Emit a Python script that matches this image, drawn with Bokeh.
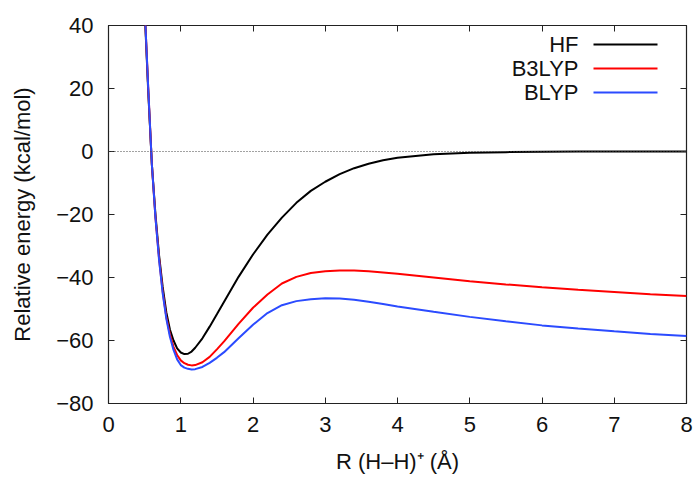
from bokeh.plotting import figure
from bokeh.models import (LinearAxis, FixedTicker, Span, Label, BoxAnnotation,
                          CustomJSTickFormatter, Range1d)
from bokeh.embed import file_html
from bokeh.resources import INLINE

# ---- data ----
R = [0.50, 0.55, 0.60, 0.65, 0.70, 0.75, 0.80, 0.85, 0.90, 0.95, 1.00, 1.05,
     1.10, 1.15, 1.20, 1.30, 1.40, 1.50, 1.60, 1.80, 2.00, 2.20, 2.40, 2.60,
     2.80, 3.00, 3.20, 3.40, 3.60, 3.80, 4.00, 4.50, 5.00, 5.50, 6.00, 6.50,
     7.00, 7.50, 8.00]

HF = [45.0, 19.0, -4.0, -20.0, -33.0, -43.0, -51.0, -56.5, -60.0, -62.5, -63.8,
      -64.3, -64.2, -63.5, -62.3, -59.3, -55.6, -51.7, -47.7, -39.8, -32.7,
      -26.4, -21.0, -16.3, -12.5, -9.6, -7.2, -5.3, -3.9, -2.8, -2.0, -0.9,
      -0.4, -0.2, -0.1, 0.0, 0.0, 0.0, 0.0]

B3LYP = [46.0, 20.0, -4.0, -21.0, -34.0, -44.5, -52.5, -58.0, -62.0, -64.6,
         -66.3, -67.2, -67.7, -67.9, -67.8, -66.9, -65.2, -62.8, -60.3, -54.7,
         -49.6, -45.4, -41.9, -39.8, -38.6, -38.0, -37.8, -37.8, -38.0, -38.4,
         -38.8, -40.0, -41.2, -42.2, -43.1, -43.9, -44.6, -45.3, -45.9]

BLYP = [46.0, 20.0, -4.0, -21.0, -34.5, -45.0, -53.0, -58.8, -63.0, -66.0,
        -67.8, -68.6, -69.0, -69.2, -69.1, -68.4, -67.1, -65.5, -63.7, -59.3,
        -55.0, -51.3, -48.8, -47.5, -46.9, -46.6, -46.7, -47.1, -47.7, -48.4,
        -49.2, -50.9, -52.5, -53.9, -55.2, -56.2, -57.1, -57.9, -58.6]

series_names = ["HF", "B3LYP", "BLYP"]
series_values = [HF, B3LYP, BLYP]
series_colors = ["#000000", "#ff0000", "#2b4bff"]

x_ticks = [0, 1, 2, 3, 4, 5, 6, 7, 8]
y_ticks = [-80, -60, -40, -20, 0, 20, 40]

FONT = "Liberation Sans"
FS = "22px"

p = figure(width=696, height=477, output_backend="svg", toolbar_location=None,
           x_range=Range1d(0, 8), y_range=Range1d(-80, 40),
           min_border_left=108, min_border_right=10, min_border_top=25,
           min_border_bottom=74)
p.grid.visible = False
p.outline_line_color = "#222222"
p.outline_line_width = 1.2
p.background_fill_color = "white"
p.border_fill_color = "white"

minus_fmt = CustomJSTickFormatter(code="return tick < 0 ? '\u2212' + (-tick) : String(tick);")
blank_fmt = CustomJSTickFormatter(code="return '';")

for ax in (p.xaxis[0], p.yaxis[0]):
    ax.major_tick_in = 6
    ax.major_tick_out = 0
    ax.minor_tick_line_color = None
    ax.axis_line_color = "#222222"
    ax.major_tick_line_color = "#222222"
    ax.major_label_text_font = FONT
    ax.major_label_text_font_size = FS
    ax.major_label_text_color = "#111111"
    ax.axis_label_text_font = FONT
    ax.axis_label_text_font_size = FS
    ax.axis_label_text_font_style = "normal"
    ax.axis_label_text_color = "#111111"
    ax.formatter = minus_fmt

p.xaxis[0].ticker = FixedTicker(ticks=x_ticks)
p.yaxis[0].ticker = FixedTicker(ticks=y_ticks)
p.xaxis[0].axis_label = "R (H\u2013H)\u207a (\u00c5)"
p.yaxis[0].axis_label = "Relative energy (kcal/mol)"
p.xaxis[0].major_label_standoff = 13
p.yaxis[0].major_label_standoff = 15
p.xaxis[0].axis_label_standoff = 14
p.yaxis[0].axis_label_standoff = 18

# mirrored tick marks on top and right (no labels)
top_ax = LinearAxis(ticker=FixedTicker(ticks=x_ticks), major_tick_in=6,
                    major_tick_out=0, minor_tick_line_color=None,
                    formatter=blank_fmt, axis_line_color=None,
                    major_tick_line_color="#222222", major_label_standoff=0)
right_ax = LinearAxis(ticker=FixedTicker(ticks=y_ticks), major_tick_in=6,
                      major_tick_out=0, minor_tick_line_color=None,
                      formatter=blank_fmt, axis_line_color=None,
                      major_tick_line_color="#222222", major_label_standoff=0)
p.add_layout(top_ax, "above")
p.add_layout(right_ax, "right")

# dotted zero line
p.add_layout(Span(location=0, dimension="width", line_color="#444444",
                  line_dash="1 2", line_width=1))

for name, vals, col in zip(series_names, series_values, series_colors):
    p.line(R, vals, line_color=col, line_width=2)

# legend (label text to the left of the sample line)
leg_y = [359, 335, 311]
for name, col, yy in zip(series_names, series_colors, leg_y):
    p.add_layout(Label(x=470, y=yy, x_units="screen", y_units="screen",
                       text=name, text_align="right", text_baseline="middle",
                       text_font=FONT, text_font_size=FS, text_color="#111111"))
    p.add_layout(BoxAnnotation(left=485, right=549, bottom=yy - 1, top=yy + 1,
                               left_units="screen", right_units="screen",
                               bottom_units="screen", top_units="screen",
                               fill_color=col, fill_alpha=1.0, line_alpha=0))

open("out.html", "w", encoding="utf-8").write(file_html(p, INLINE))
